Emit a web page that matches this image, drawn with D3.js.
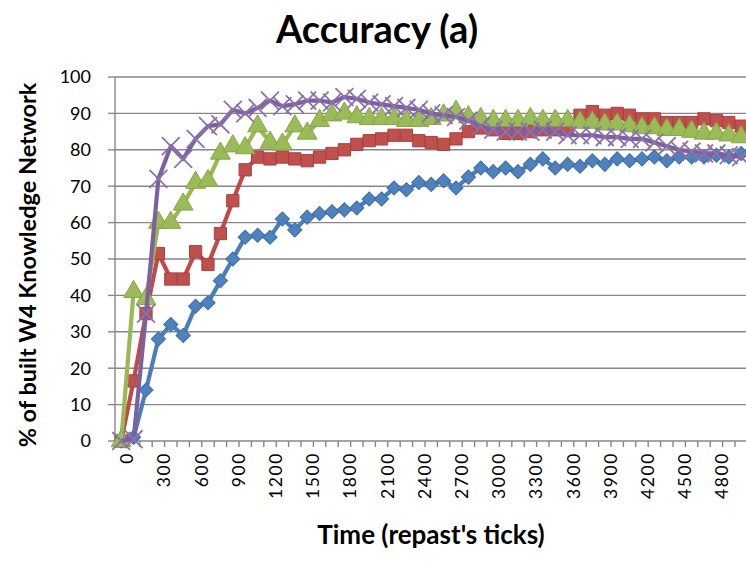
<!DOCTYPE html>
<html>
<head>
<meta charset="utf-8">
<script src="https://cdn.jsdelivr.net/npm/d3@7"></script>
<style>
  body { margin: 0; background: #fff; }
  text { font-family: Lato, "Open Sans", sans-serif; fill: #000; }
</style>
</head>
<body>
<svg id="chart" width="746" height="563"></svg>
<script>
// categories: repast ticks, one every 100
const ticks = d3.range(0, 5001, 100);
const tickLabels = [0, 300, 600, 900, 1200, 1500, 1800, 2100, 2400, 2700, 3000, 3300, 3600, 3900, 4200, 4500, 4800];
const yTicks = [0, 10, 20, 30, 40, 50, 60, 70, 80, 90, 100];

const blueValues = [
    0, 1, 14, 28, 32, 29, 37, 38, 44, 50,
    56, 56.5, 56, 61, 58, 61.5, 62.5, 63, 63.5, 64,
    66.5, 66.5, 69.5, 69, 71, 70.5, 71.5, 69.5, 72.5, 75,
    74, 75, 74, 76, 77.5, 75, 76, 75.5, 77, 76,
    77.5, 77, 77.5, 78, 77, 78, 78, 78, 78.5, 78,
    79
];
const redValues = [
    0, 16.5, 35, 51.5, 44.5, 44.5, 52, 48.5, 57, 66,
    74.5, 78, 77.5, 78, 77.5, 77, 78, 79, 80, 81.5,
    82.5, 83, 84, 84, 82.5, 82, 81.5, 83, 85, 86,
    85.5, 84.5, 84.5, 85, 85.5, 85.5, 85.5, 89.5, 90.5, 89.5,
    90, 89.5, 88.5, 88.5, 87.5, 87.5, 87.5, 88.5, 88, 87.5,
    86.5
];
const greenValues = [
    0, 41, 39, 60, 60, 65, 71, 71.5, 79, 81,
    80.5, 86.5, 82, 81.5, 86.5, 84.5, 88, 89.5, 90, 89,
    88.5, 88.5, 88.5, 88, 88, 88.5, 89.5, 90.5, 89, 88.5,
    88, 88, 88, 88.5, 88, 88, 88, 87.5, 87.5, 87,
    87, 86.5, 86, 86, 85.5, 85.5, 85, 84.5, 84.5, 84,
    83.5
];
const purpleValues = [
    0, 0.5, 35, 72, 81, 77.5, 83, 86.5, 87, 91,
    90, 91.5, 93.5, 92, 92.5, 93.5, 93.5, 93, 94.5, 94,
    93, 92.5, 92, 91.5, 91, 90, 89.5, 89, 88, 86.5,
    85.5, 85, 85, 85, 85.5, 85, 84, 84, 84, 83.5,
    83.5, 83, 83, 82, 81, 80, 79.5, 79, 79, 78.5,
    78
];

const series = [
    { values: blueValues, line: "#4a7ebb", fill: "#4f81bd", stroke: "#3f6fa8", symbol: d3.symbolSquare, size: 100, rotate: 45 },
    { values: redValues, line: "#be4b48", fill: "#c0504d", stroke: "#a8413e", symbol: d3.symbolSquare, size: 150, rotate: 0 },
    { values: greenValues, line: "#98b954", fill: "#9bbb59", stroke: "#86a648", symbol: d3.symbolTriangle, size: 170, rotate: 0 },
    { values: purpleValues, line: "#7d60a0", fill: "none", stroke: "#8a72ad", symbol: d3.symbolX, size: 210, rotate: 0 }
];

const svg = d3.select("#chart");
const plotLeft = 115, plotTop = 77, plotBottom = 441, step = 12.4;

const x = d3.scaleBand()
    .domain(ticks)
    .range([plotLeft, plotLeft + step * ticks.length]);
const y = d3.scaleLinear()
    .domain([0, 100])
    .range([plotBottom, plotTop]);
const cx = t => x(t) + x.bandwidth() / 2;

// horizontal gridlines
svg.selectAll()
    .data(yTicks.filter(d => d > 0))
    .enter().append("line")
    .attr("x1", plotLeft)
    .attr("x2", 746)
    .attr("y1", d => y(d))
    .attr("y2", d => y(d))
    .attr("style", "stroke:#878787;stroke-width:1.4;");

// y axis
svg.append("line")
    .attr("x1", plotLeft).attr("x2", plotLeft)
    .attr("y1", plotTop).attr("y2", plotBottom)
    .attr("style", "stroke:#878787;stroke-width:1.4;");

svg.selectAll()
    .data(yTicks)
    .enter().append("line")
    .attr("x1", plotLeft - 7).attr("x2", plotLeft)
    .attr("y1", d => y(d)).attr("y2", d => y(d))
    .attr("style", "stroke:#878787;stroke-width:1.4;");

svg.selectAll()
    .data(yTicks)
    .enter().append("text")
    .attr("x", 91)
    .attr("y", d => y(d))
    .attr("dy", "0.36em")
    .attr("text-anchor", "end")
    .attr("font-size", 18)
    .text(d => d);

// x axis
svg.append("line")
    .attr("x1", plotLeft).attr("x2", 746)
    .attr("y1", plotBottom).attr("y2", plotBottom)
    .attr("style", "stroke:#878787;stroke-width:1.4;");

svg.selectAll()
    .data(ticks)
    .enter().append("line")
    .attr("x1", d => x(d) + x.bandwidth()).attr("x2", d => x(d) + x.bandwidth())
    .attr("y1", plotBottom).attr("y2", plotBottom + 6)
    .attr("style", "stroke:#878787;stroke-width:1.4;");

svg.selectAll()
    .data(tickLabels)
    .enter().append("text")
    .attr("transform", d => "translate(" + (cx(d) + 12) + "," + (plotBottom + 11) + ") rotate(-90)")
    .attr("text-anchor", "end")
    .attr("font-size", 17.5)
    .attr("letter-spacing", 1.6)
    .text(d => d);

// series: lines first, markers on top of each own line
const line = d3.line()
    .x((d, i) => cx(ticks[i]))
    .y(d => y(d));

series.forEach(s => {
    svg.append("path")
        .datum(s.values)
        .attr("d", line)
        .attr("style", "fill:none;stroke:" + s.line + ";stroke-width:4.2;stroke-linejoin:round;");

    svg.selectAll()
        .data(s.values)
        .enter().append("path")
        .attr("d", d3.symbol().type(s.symbol).size(s.size))
        .attr("transform", (d, i) => "translate(" + cx(ticks[i]) + "," + y(d) + ") rotate(" + s.rotate + ")")
        .attr("style", "fill:" + s.fill + ";stroke:" + s.stroke + ";stroke-width:" + (s.fill == "none" ? 1.8 : 1) + ";");
});

// titles
svg.append("text")
    .attr("x", 377)
    .attr("y", 43)
    .attr("text-anchor", "middle")
    .attr("font-size", 38)
    .attr("font-weight", "bold")
    .text("Accuracy (a)");

svg.append("text")
    .attr("x", 431)
    .attr("y", 544)
    .attr("text-anchor", "middle")
    .attr("font-size", 26)
    .attr("font-weight", "bold")
    .text("Time (repast's ticks)");

svg.append("text")
    .attr("transform", "translate(36,265) rotate(-90)")
    .attr("text-anchor", "middle")
    .attr("font-size", 23.5)
    .attr("font-weight", "bold")
    .text("% of built W4 Knowledge Network");
</script>
</body>
</html>
